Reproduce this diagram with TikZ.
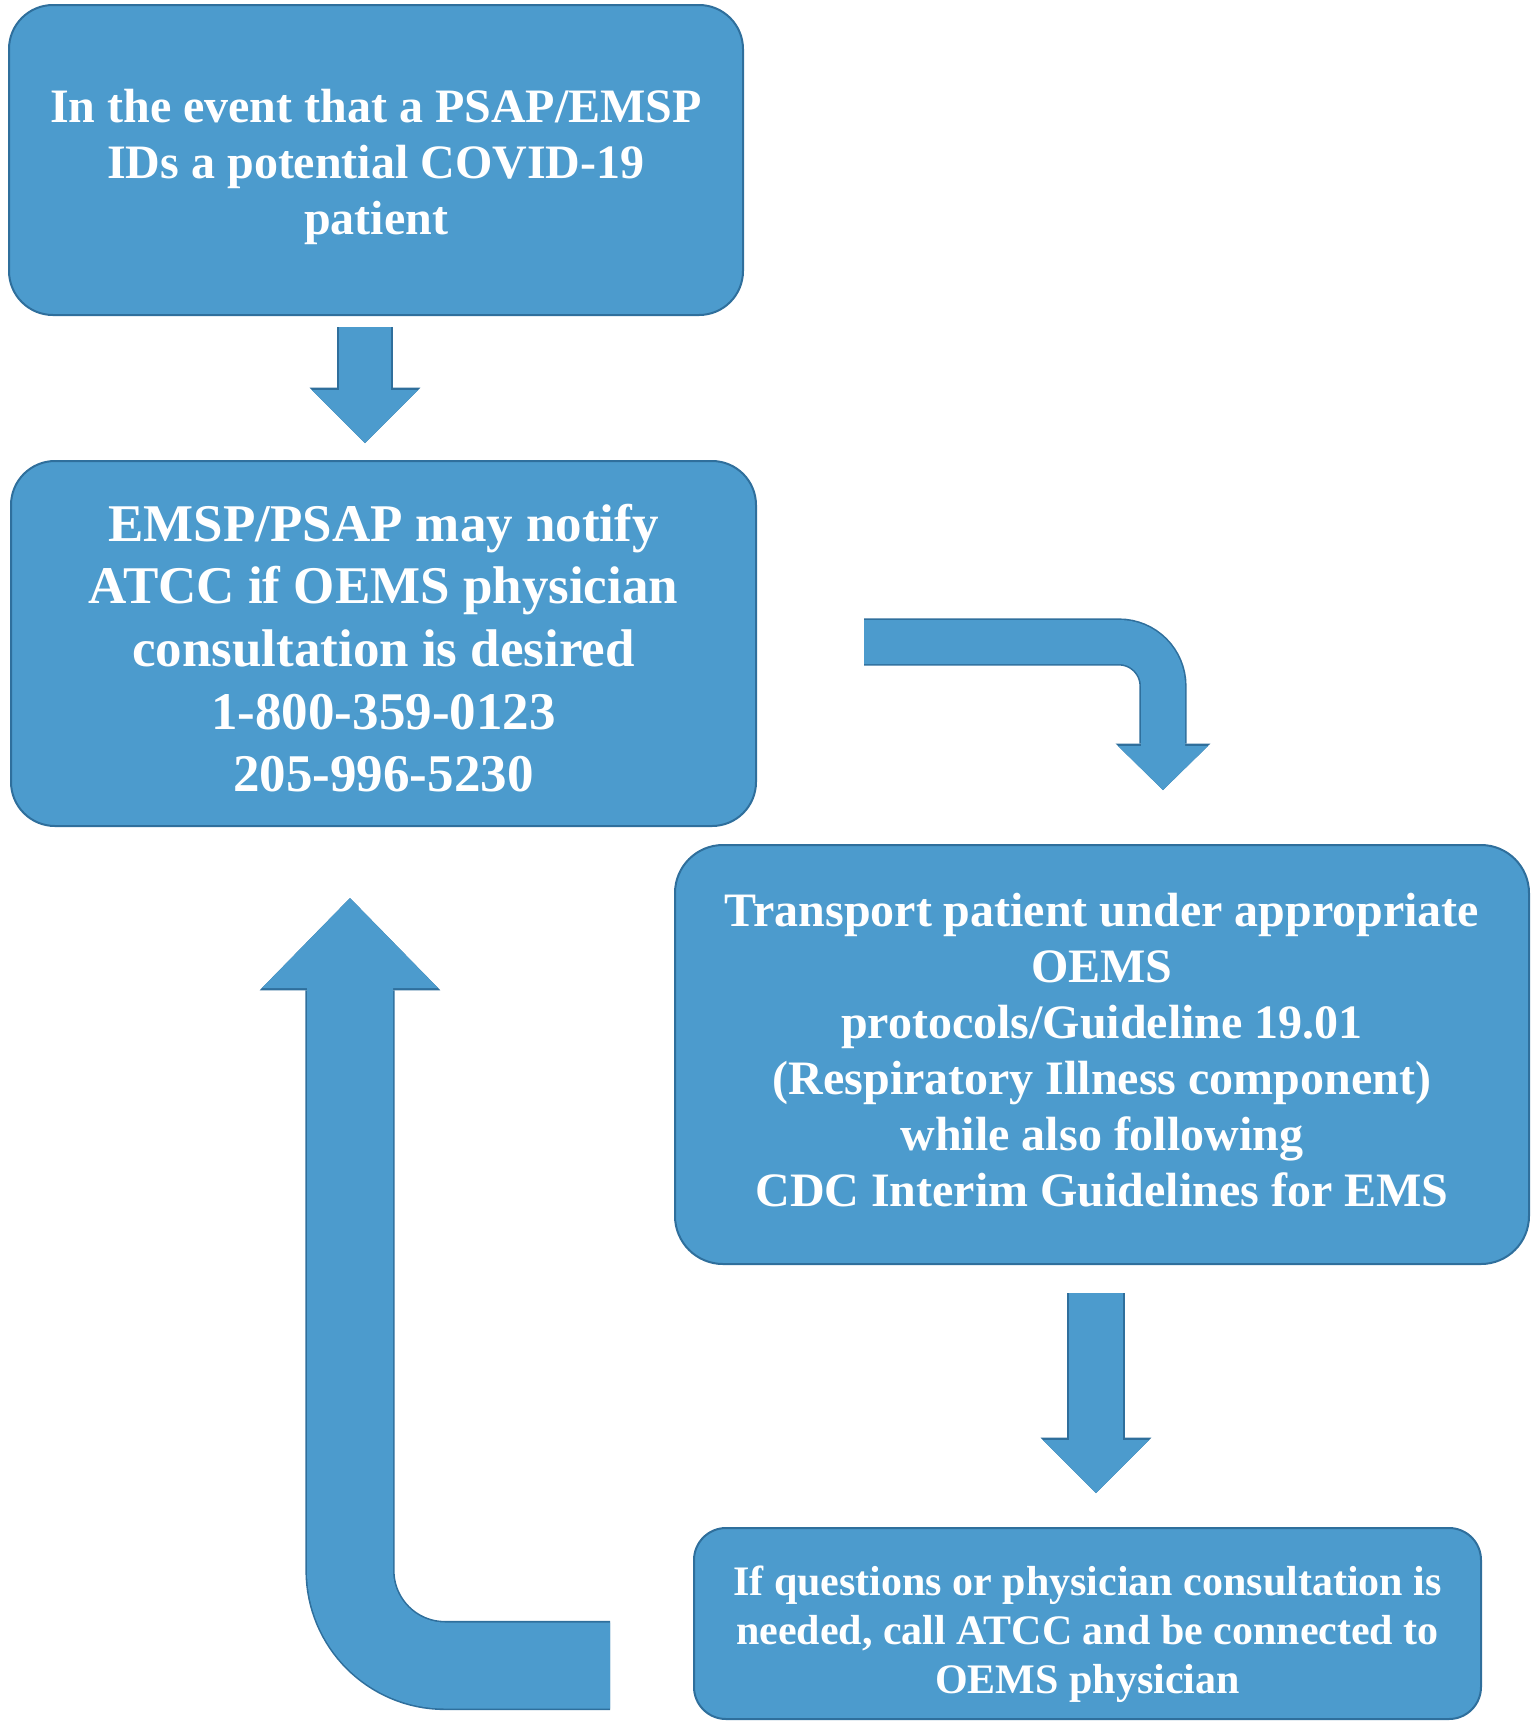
\documentclass[tikz,border=0pt]{standalone}
\usepackage{fontspec}
\setmainfont{Liberation Serif}
\usetikzlibrary{arrows.meta,positioning}
\definecolor{flowfill}{HTML}{4C9BCD}
\definecolor{flowedge}{HTML}{2F6F9C}
\tikzset{
  every node/.style={text=white,font=\bfseries},
  box/.style={draw=flowedge,line width=1pt,fill=flowfill,rounded corners=22pt,align=center,inner sep=0pt},
  bigtext/.style={align=center,font=\bfseries\fontsize{24}{28}\selectfont},
  hugetext/.style={align=center,font=\bfseries\fontsize{26.5}{31.3}\selectfont},
  smalltext/.style={align=center,font=\bfseries\fontsize{21}{24.5}\selectfont},
  blockarr/.style n args={3}{draw=flowfill,line cap=butt,line width=#1,
    -{Triangle[length=#2,width=#3,line width=0pt]},
    preaction={draw=flowedge,line width=#1+1.6pt,-{Triangle[length=#2+1.2pt,width=#3+2.4pt,line width=0pt]}}},
}

\begin{document}
\begin{tikzpicture}[x=0.5pt,y=-0.5pt]
\useasboundingbox (0,0) rectangle (1533,1721);

% the four steps
\node[box,minimum width=367pt,minimum height=155pt] (event) at (376,160) {};
\node[bigtext] (eventtext) at (376,166.5) {In the event that a PSAP/EMSP\\IDs a potential COVID-19\\patient};
\node[box,minimum width=372.5pt,minimum height=182.5pt] (notify) at (383.5,643.5) {};
\node[hugetext] (notifytext) at (383.5,648) {EMSP/PSAP may notify\\ATCC if OEMS physician\\consultation is desired\\1-800-359-0123\\205-996-5230};
\node[box,minimum width=427pt,minimum height=209.5pt,rounded corners=24pt] (transport) at (1102,1054.5) {};
\node[bigtext] (transporttext) at (1102,1050) {Transport patient under appropriate\\OEMS\\protocols/Guideline 19.01\\(Respiratory Illness component)\\while also following\\CDC Interim Guidelines for EMS};
\node[box,minimum width=393.5pt,minimum height=95.5pt,rounded corners=16pt] (consult) at (1087.5,1623.5) {};
\node[smalltext] (consulttext) at (1087.5,1634) {If questions or physician consultation is\\needed, call ATCC and be connected to\\OEMS physician};

% block arrows between the steps
\coordinate (e1) at (365,327);
\coordinate (e2) at (365,443);
\draw[blockarr={26pt}{26.5pt}{53pt}] (e1) -- (e2);

\coordinate (n1) at (864,642);
\coordinate (n2) at (1163,790);
\draw[blockarr={22pt}{22pt}{45pt},rounded corners=22pt] (n1) -| (n2);

\coordinate (t1) at (1096,1293);
\coordinate (t2) at (1096,1493);
\draw[blockarr={27pt}{26.5pt}{53pt}] (t1) -- (t2);

\coordinate (c1) at (610,1665.5);
\coordinate (c2) at (350,898);
\draw[blockarr={43pt}{45pt}{88pt},rounded corners=47.5pt] (c1) -| (c2);

\end{tikzpicture}
\end{document}
